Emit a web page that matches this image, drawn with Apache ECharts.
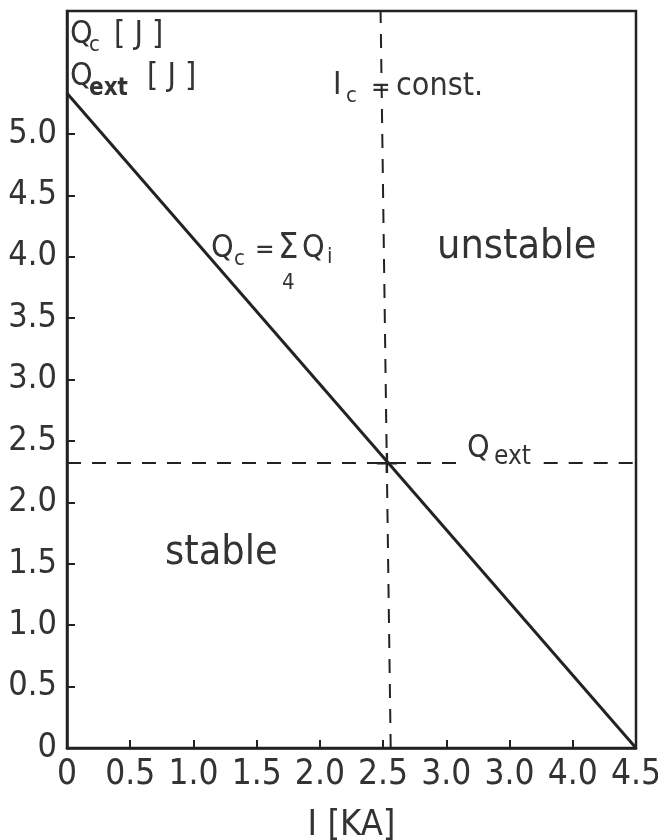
<!DOCTYPE html>
<html>
<head>
<meta charset="utf-8">
<script src="https://cdn.jsdelivr.net/npm/echarts@6/dist/echarts.min.js"></script>
<style>
html,body{margin:0;padding:0;background:#fff;}
#chart{width:658px;height:840px;}
</style>
</head>
<body>
<div id="chart"></div>
<script>
// ---- data ----
const xTickLabels = ['0','0.5','1.0','1.5','2.0','2.5','3.0','3.0','4.0','4.5'];
const yTickValues = [0,0.5,1.0,1.5,2.0,2.5,3.0,3.5,4.0,4.5,5.0];
const yTickLabels = ['0','0.5','1.0','1.5','2.0','2.5','3.0','3.5','4.0','4.5','5.0'];
const currentKA = [0, 4.5];
const qcValues = [5.33, 0];
const qExt = 2.32;
const iCriticalBottom = 2.56;   // dashed Ic line as drawn (slightly slanted in the scan)
const iCriticalTop = 2.48;
const qExtLabelGap = [3.10, 3.77];
const crossing = [2.53, 2.32];

const FONT = '"DejaVu Sans Condensed","Liberation Sans Narrow","DejaVu Sans",sans-serif';
const INK = '#222';
const TXT = '#333';

const chart = echarts.init(document.getElementById('chart'), null, {renderer:'canvas'});

function t(x, y, text, size, extra) {
  return {
    type: 'text', x: x, y: y, silent: true,
    style: Object.assign({text: text, fontSize: size, fontFamily: FONT, fill: TXT,
      textAlign: 'left', textVerticalAlign: 'middle'}, extra || {})
  };
}

const option = {
  animation: false,
  backgroundColor: '#fff',
  grid: {left: 67, right: 22, top: 11, bottom: 92, show: true, borderColor: INK, borderWidth: 2.5,
    containLabel: false, outerBoundsMode: 'none'},
  xAxis: {
    type: 'value', min: 0, max: 4.5, interval: 0.5,
    axisLine: {show: true, lineStyle: {color: INK, width: 2.5}},
    axisTick: {show: true, inside: true, length: 8, lineStyle: {color: INK, width: 2}},
    splitLine: {show: false},
    axisLabel: {color: TXT, fontSize: 35, fontFamily: FONT, margin: 9,
      formatter: function (v) { return xTickLabels[Math.round(v / 0.5)]; }},
    name: 'I [KA]', nameLocation: 'middle', nameGap: 60,
    nameTextStyle: {color: TXT, fontSize: 36, fontFamily: FONT}
  },
  yAxis: {
    type: 'value', min: 0, max: 6, interval: 0.5,
    axisLine: {show: true, lineStyle: {color: INK, width: 2.5}},
    axisTick: {show: true, inside: true, length: 8, lineStyle: {color: INK, width: 2},
      customValues: yTickValues},
    splitLine: {show: false},
    axisLabel: {color: TXT, fontSize: 34, fontFamily: FONT, margin: 10,
      customValues: yTickValues,
      formatter: function (v) {
        const i = yTickValues.findIndex(function (u) { return Math.abs(u - v) < 1e-6; });
        return i >= 0 ? yTickLabels[i] : '';
      }}
  },
  series: [
    {
      type: 'line', symbol: 'none', silent: true,
      data: currentKA.map(function (x, i) { return [x, qcValues[i]]; }),
      lineStyle: {color: INK, width: 3},
      markLine: {
        silent: true, symbol: 'none', animation: false,
        label: {show: false},
        lineStyle: {color: INK, width: 2, type: [14, 11]},
        data: [
          [{coord: [0, qExt]}, {coord: [qExtLabelGap[0], qExt]}],
          [{coord: [qExtLabelGap[1], qExt]}, {coord: [4.5, qExt]}],
          [{coord: [iCriticalBottom, 0]}, {coord: [iCriticalTop, 6]}]
        ]
      },
      markPoint: {
        silent: true, animation: false, label: {show: false},
        symbol: 'path://M0,9h20v2.4h-20zM8.8,0h2.4v20h-2.4z', symbolSize: 20,
        itemStyle: {color: INK},
        data: [{coord: crossing}]
      }
    }
  ],
  graphic: [
    // y-axis title
    t(70, 35, 'Q', 32), t(89, 45, 'c', 22), t(114, 35, '[ J ]', 32),
    t(70, 77, 'Q', 32), t(89, 89, 'ext', 24, {fontWeight: 'bold'}), t(147, 77, '[ J ]', 32),
    // Ic = const.
    t(333, 86, 'I', 32), t(346, 96, 'c', 22), t(371, 89, '=', 26), t(396, 87, 'const.', 32),
    // Qc = sum Qi
    t(211, 249, 'Q', 32), t(234, 259, 'c', 22), t(255, 251, '=', 26), t(278, 249, 'Σ', 36),
    t(282, 283, '4', 22), t(302, 249, 'Q', 32), t(327, 257, 'i', 22),
    // regions
    t(437, 247, 'unstable', 41), t(165, 553, 'stable', 41),
    // Qext label
    t(467, 449, 'Q', 32), t(494, 457, 'ext', 26)
  ]
};
chart.setOption(option);
</script>
</body>
</html>
